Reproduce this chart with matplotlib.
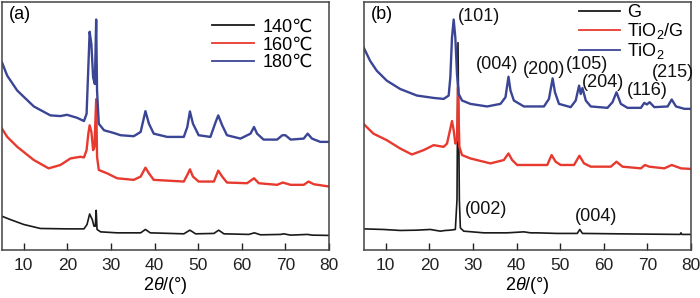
import matplotlib
matplotlib.use("Agg")
import matplotlib.pyplot as plt

plt.rcParams['font.family'] = ['Liberation Sans', 'DejaVu Sans']
plt.rcParams['mathtext.fontset'] = 'custom'
plt.rcParams['mathtext.rm'] = 'Liberation Sans'
plt.rcParams['mathtext.it'] = 'Liberation Sans:italic'

# ---------------- Panel (a) data ----------------
a180_x = [5.0, 6.2, 8.5, 12.3, 16.1, 18.4, 19.9, 22.2, 23.8, 24.4, 24.8, 25.1, 25.5, 25.9, 26.3, 26.6, 26.8, 27.2,
          28.4, 30.6, 32.2, 35.2, 36.8, 37.9, 38.7, 39.8, 42.9, 46.7, 47.5, 48.1, 48.8, 50.1, 52.8, 54.0, 54.6,
          55.5, 56.6, 59.7, 62.0, 62.8, 63.5, 65.0, 68.1, 69.3, 70.0, 71.2, 74.2, 75.1, 76.1, 78.0, 80.0]
a180_y = [189, 175.7, 160.7, 144.7, 135.7, 135, 136.3, 133.3, 130, 137.3, 184, 220, 207.3, 174, 167.3, 232.3, 160.7, 127.3,
          120.7, 118, 115.7, 114.7, 119, 140, 127.3, 117.3, 114, 114, 124, 139.7, 127.3, 115.7, 114, 129, 135.7,
          125.7, 115.7, 112.3, 117.3, 124, 117.3, 111.3, 111.3, 115.7, 115.7, 111.3, 112.3, 117.3, 112.3, 109, 109]

a160_x = [5.0, 6.2, 8.5, 12.3, 15.7, 18.4, 20.7, 23.0, 23.8, 24.4, 24.8, 25.1, 25.5, 25.9, 26.2, 26.6, 26.8, 27.2,
          29.1, 31.4, 35.2, 36.8, 37.9, 38.7, 39.8, 46.7, 47.5, 48.1, 48.8, 50.1, 53.6, 54.6, 55.5, 56.6, 61.2,
          62.8, 63.9, 68.1, 69.4, 71.2, 74.2, 75.3, 76.5, 80.0]
a160_y = [122.3, 114, 104, 90.7, 82.3, 85.7, 92.3, 94, 93.3, 100.7, 117.3, 125.7, 119, 100.7, 104, 152, 94, 80.7,
          77.3, 72.3, 70.7, 74, 83, 77.3, 70.7, 69, 75.7, 81.3, 74, 69, 69, 80, 74, 68, 67.3,
          72.3, 67.3, 65.7, 68, 65.7, 65.7, 69, 66.3, 64]

a140_x = [5.0, 6.9, 10.0, 13.8, 19.9, 23.8, 24.5, 25.1, 25.7, 26.1, 26.4, 26.6, 26.8, 27.6, 31.4, 36.8, 37.9, 39.0,
          46.7, 48.1, 49.4, 53.6, 54.7, 55.9, 61.6, 62.9, 64.3, 68.9, 69.6, 71.2, 75.1, 76.1, 80.0]
a140_y = [34, 30.7, 25.7, 21.7, 21.3, 21.3, 25.7, 36.3, 30.7, 24, 24, 40, 20.7, 18.3, 17.3, 17.3, 20.7, 17.3,
          16.3, 20, 16.3, 16.7, 20, 16.3, 15.7, 17.3, 15.3, 15.7, 16.3, 15, 15.7, 15, 14.7]

# ---------------- Panel (b) data ----------------
bTiO2_x = [4.86, 6.4, 7.93, 10.23, 13.3, 17.13, 20.97, 23.27, 24.42, 24.8, 25.18, 25.57, 25.95, 26.33, 26.72, 27.48,
           29.4, 33.24, 36.3, 37.45, 38.14, 38.6, 39.37, 41.67, 46.27, 47.42, 48.26, 48.8, 49.72, 52.41, 53.56,
           54.33, 54.71, 55.1, 55.87, 57.01, 60.84, 61.99, 62.91, 63.91, 65.44, 68.51, 69.28, 69.89, 70.51, 71.58,
           74.65, 75.57, 76.56, 78.48, 80.0]
bTiO2_y = [204.7, 190.7, 180.7, 170.7, 162.3, 155.7, 153.3, 152.3, 155.7, 174, 214, 232.3, 214, 177.3, 157.3, 150.7,
           147.3, 144.7, 147.3, 154, 174.7, 160.7, 150.7, 144.7, 144.7, 152.3, 173, 159, 147.3, 144, 150.7,
           165.7, 157.3, 163.3, 150.7, 144.7, 143.3, 149, 159, 147.3, 143.3, 143.3, 148.3, 146.7, 149, 144,
           144.7, 151.7, 144.7, 142.3, 142.3]

bTG_x = [4.86, 7.16, 10.23, 13.3, 15.99, 18.68, 20.97, 23.27, 24.04, 24.8, 25.18, 25.57, 25.95, 26.33, 26.56, 26.87,
         27.48, 29.4, 34.0, 37.07, 38.14, 38.98, 40.13, 47.03, 48.03, 48.95, 50.1, 53.17, 54.4, 55.47, 57.01,
         61.61, 62.91, 64.29, 68.51, 69.43, 70.43, 73.88, 75.57, 77.71, 80.0]
bTG_y = [127.3, 117.3, 110.7, 102.3, 96.3, 100.7, 105.7, 104, 107.3, 122.3, 130, 120.7, 107.3, 110.7, 164, 104,
         95.7, 92.3, 87.3, 90.7, 97.3, 90.7, 85.7, 85.7, 95.7, 89, 85.7, 85.7, 95, 87.3, 84,
         84, 89, 84, 82.3, 85.7, 84, 82.3, 85.7, 82.3, 81.7]

bG_x = [4.86, 9.46, 13.3, 17.13, 20.2, 22.5, 23.65, 24.8, 25.95, 26.33, 26.56, 26.87, 27.1, 27.87, 32.48, 34.78,
        37.85, 41.67, 43.2, 44.7, 49.3, 53.9, 54.5, 55.1, 63.2, 77.5, 77.7, 77.9, 80.0]
bG_y = [21.3, 20.7, 19.7, 20, 20.7, 19, 19.7, 20, 20.7, 50.7, 209, 50.7, 22.3, 19, 17.3, 17.3,
        17.3, 18.3, 17.3, 17.3, 16.7, 16.7, 20.7, 16.7, 16.3, 15.7, 17.3, 15.7, 15.7]

labels_a = ['140\u2103', '160\u2103', '180\u2103']
labels_b = ['G', 'TiO$_2$/G', 'TiO$_2$']

peak_labels = ['(101)', '(004)', '(200)', '(105)', '(204)', '(116)', '(215)', '(002)', '(004)']
peak_lab_x = [31.3, 35.5, 46.4, 56.1, 59.9, 69.9, 75.8, 33.1, 58.3]
peak_lab_y = [235.7, 187, 182, 187, 169, 161, 179, 41, 34]

xticks = [10, 20, 30, 40, 50, 60, 70, 80]

BLACK = '#1a1a1a'
RED = '#e8392f'
BLUE = '#3b4595'

fig = plt.figure(figsize=(7.0, 2.98), dpi=100)
ax_a = fig.add_axes([2/700, 48/298, 327/700, 248/298])
ax_b = fig.add_axes([364/700, 48/298, 327/700, 248/298])

ax_a.plot(a140_x, a140_y, color=BLACK, lw=1.2, label=labels_a[0])
ax_a.plot(a160_x, a160_y, color=RED, lw=1.7, label=labels_a[1])
ax_a.plot(a180_x, a180_y, color=BLUE, lw=1.7, label=labels_a[2])

ax_b.plot(bG_x, bG_y, color=BLACK, lw=1.2, label=labels_b[0])
ax_b.plot(bTG_x, bTG_y, color=RED, lw=1.7, label=labels_b[1])
ax_b.plot(bTiO2_x, bTiO2_y, color=BLUE, lw=1.7, label=labels_b[2])

for t, x, y in zip(peak_labels, peak_lab_x, peak_lab_y):
    ax_b.text(x, y, t, ha='center', va='center', fontsize=13, color='#111111')

for ax, tag in [(ax_a, '(a)'), (ax_b, '(b)')]:
    ax.set_xlim(5, 80)
    ax.set_ylim(0, 250)
    ax.set_xticks(xticks)
    ax.set_yticks([])
    ax.tick_params(axis='x', direction='in', length=5, width=1.0, labelsize=12.5, pad=6, colors='#222222')
    for s in ax.spines.values():
        s.set_linewidth(1.1)
        s.set_color('#444444')
    ax.set_xlabel('$2\\theta$/(\u00b0)', fontsize=13, labelpad=1)
    ax.text(0.02, 0.95, tag, transform=ax.transAxes, fontsize=13, ha='left', va='center')

leg_a = ax_a.legend(loc='upper right', frameon=False, fontsize=13, handlelength=2.3, handletextpad=0.5,
                    labelspacing=0.05, borderaxespad=0.3, bbox_to_anchor=(0.99, 0.985))
leg_b = ax_b.legend(loc='upper right', frameon=False, fontsize=13, handlelength=2.3, handletextpad=0.4,
                    labelspacing=0.0, borderaxespad=0.0, bbox_to_anchor=(1.0, 1.02))
for leg in (leg_a, leg_b):
    for h in leg.legend_handles:
        h.set_linewidth(1.3)

fig.savefig('out.png', dpi=100)
